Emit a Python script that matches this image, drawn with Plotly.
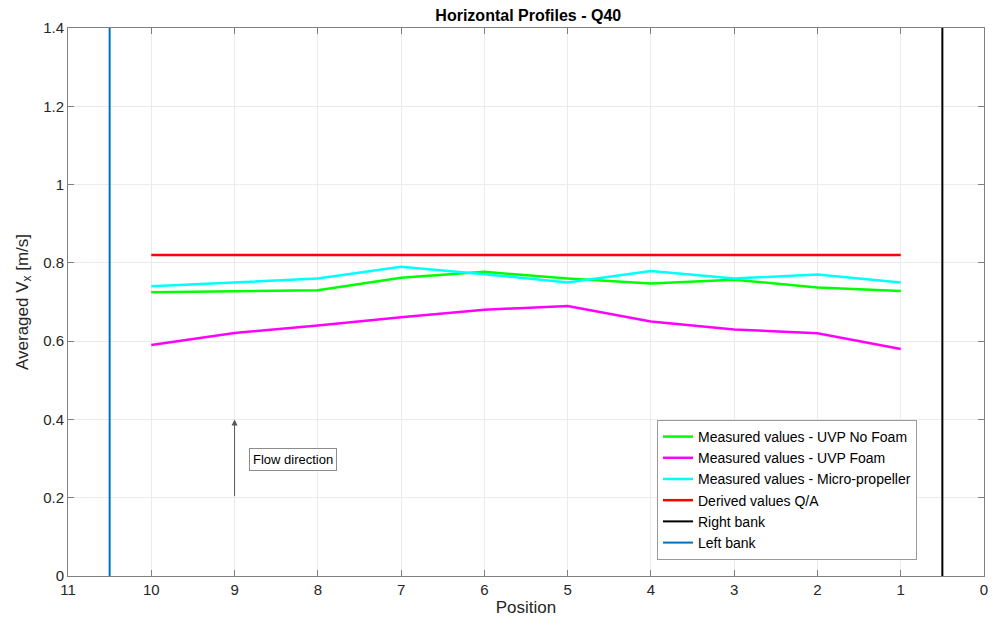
import plotly.graph_objects as go

positions = [10, 9, 8, 7, 6, 5, 4, 3, 2, 1]
uvp_no_foam = [0.725, 0.728, 0.730, 0.762, 0.777, 0.760, 0.747, 0.757, 0.737, 0.728]
uvp_foam = [0.590, 0.621, 0.640, 0.661, 0.680, 0.690, 0.650, 0.630, 0.620, 0.580]
micro_propeller = [0.740, 0.750, 0.760, 0.790, 0.771, 0.750, 0.779, 0.760, 0.770, 0.750]
derived_qa = [0.82] * 10
right_bank_x = 0.5
left_bank_x = 10.5
y_range = [0, 1.4]
x_ticks = list(range(11, -1, -1))
y_ticks = [0, 0.2, 0.4, 0.6, 0.8, 1.0, 1.2, 1.4]
y_tick_text = ["0", "0.2", "0.4", "0.6", "0.8", "1", "1.2", "1.4"]

FONT = "Liberation Sans, Arial"

fig = go.Figure()
series = [
    ("Measured values - UVP No Foam", uvp_no_foam, "#00FF00"),
    ("Measured values - UVP Foam", uvp_foam, "#FF00FF"),
    ("Measured values - Micro-propeller", micro_propeller, "#00FFFF"),
    ("Derived values Q/A", derived_qa, "#FF0000"),
]
for name, vals, col in series:
    fig.add_trace(go.Scatter(x=positions, y=vals, mode="lines", name=name,
                             line=dict(color=col, width=2.5)))
fig.add_trace(go.Scatter(x=[right_bank_x, right_bank_x], y=y_range, mode="lines",
                         name="Right bank", line=dict(color="#000000", width=2)))
fig.add_trace(go.Scatter(x=[left_bank_x, left_bank_x], y=y_range, mode="lines",
                         name="Left bank", line=dict(color="#0072BD", width=2)))

# flow direction arrow and its label
fig.add_annotation(x=9, y=0.4, ax=9, ay=0.2, xref="x", yref="y", axref="x", ayref="y",
                   showarrow=True, arrowhead=2, arrowsize=1.2, arrowwidth=1,
                   arrowcolor="#555555", text="",
                   font=dict(family=FONT, size=12))
fig.add_annotation(x=8.83, y=0.298, xref="x", yref="y", xanchor="left", yanchor="middle",
                   text="Flow direction", showarrow=False,
                   font=dict(family=FONT, size=13, color="#000000"),
                   bgcolor="#FFFFFF", bordercolor="#8c8c8c", borderwidth=1, borderpad=3)

axis_common = dict(showline=True, linecolor="#808080", linewidth=1, mirror="ticks",
                   ticks="inside", ticklen=6, tickcolor="#808080",
                   showgrid=True, gridcolor="#ebebeb", gridwidth=1, zeroline=False,
                   tickfont=dict(family=FONT, size=15, color="#262626"))

fig.update_layout(
    width=993, height=627,
    margin=dict(l=68, r=5, t=28, b=51),
    paper_bgcolor="#FFFFFF", plot_bgcolor="#FFFFFF",
    title=dict(text="<b>Horizontal Profiles - Q40</b>", x=0.532, xanchor="center",
               y=0.985, yanchor="top",
               font=dict(family=FONT, size=16, color="#000000")),
    xaxis=dict(range=[11, 0], tickvals=x_ticks,
               title=dict(text="Position", standoff=4,
                          font=dict(family=FONT, size=17, color="#262626")),
               **axis_common),
    yaxis=dict(range=y_range, tickvals=y_ticks, ticktext=y_tick_text,
               title=dict(text="Averaged V<sub>x</sub> [m/s]", standoff=10,
                          font=dict(family=FONT, size=17, color="#262626")),
               **axis_common),
    legend=dict(x=0.643, y=0.2847, xanchor="left", yanchor="top",
                bgcolor="#FFFFFF", bordercolor="#9a9a9a", borderwidth=1,
                font=dict(family=FONT, size=14, color="#000000"),
                itemwidth=30, tracegroupgap=0),
    showlegend=True,
)

fig.write_html("out.html")
